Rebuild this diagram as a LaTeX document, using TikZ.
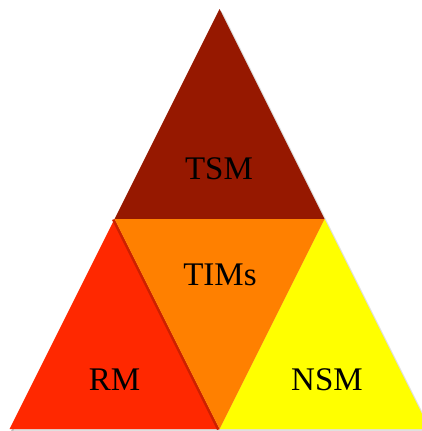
\documentclass[tikz,border=0pt]{standalone}
\usepackage{fontspec}
\setmainfont{Liberation Serif}
\definecolor{tsmc}{RGB}{150,24,0}
\definecolor{rmc}{RGB}{255,40,0}
\definecolor{timc}{RGB}{255,128,0}
\definecolor{nsmc}{RGB}{255,255,0}
\tikzset{lbl/.style={font=\fontsize{33}{33}\selectfont, text=black, inner sep=0pt, anchor=center}}
\begin{document}
\begin{tikzpicture}[x=1pt,y=-1pt]
\useasboundingbox (0,0) rectangle (422,431);
\clip (0,0) rectangle (422,431);
\coordinate (A) at (219.5,9);
\coordinate (L) at (114.5,219);
\coordinate (R) at (324.5,219);
\coordinate (BL) at (9.5,429);
\coordinate (BM) at (219.5,429);
\coordinate (BR) at (429.5,429);
% soft shadow
\fill[black!25] ([shift={(1.5,2)}]A) -- ([shift={(1.5,2)}]BR) -- ([shift={(1.5,2)}]BL) -- cycle;
\fill[black!12] ([shift={(3,3.5)}]A) -- ([shift={(3,3.5)}]BR) -- ([shift={(3,3.5)}]BL) -- cycle;
\fill[tsmc] (A) -- (R) -- (L) -- cycle;
\fill[rmc] (L) -- (BM) -- (BL) -- cycle;
\fill[nsmc] (R) -- (BR) -- (BM) -- cycle;
% shadow of middle triangle onto red
\fill[rmc!80!black] ([shift={(-2.5,1)}]L) -- ([shift={(-2.5,1)}]BM) -- (BM) -- (L) -- cycle;
\fill[timc] (L) -- (R) -- (BM) -- cycle;
\node[lbl] (tsm) at (219,168.5) {TSM};
\node[lbl] (tims) at (220,274.5) {TIMs};
\node[lbl] (rm) at (114.5,380) {RM};
\node[lbl] (nsm) at (327,380) {NSM};
\end{tikzpicture}
\end{document}
